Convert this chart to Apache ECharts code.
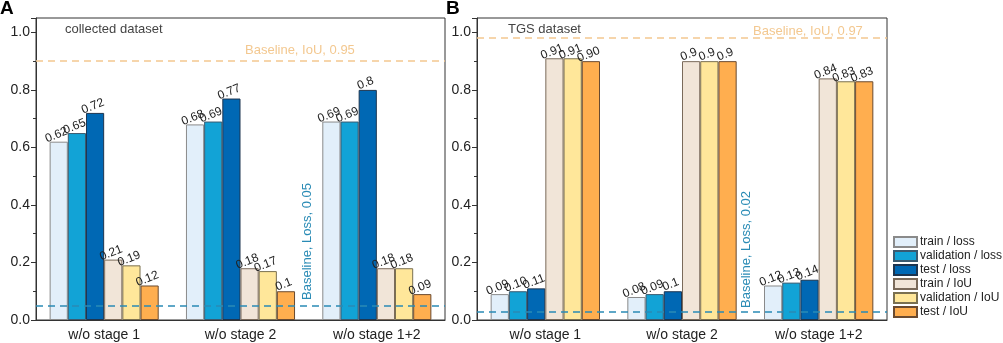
<!DOCTYPE html>
<html>
<head>
<meta charset="utf-8">
<script src="https://cdn.jsdelivr.net/npm/echarts@6/dist/echarts.min.js"></script>
<style>
html, body {margin: 0; padding: 0; background: #fff;}
#chart {width: 1003px; height: 343px;}
</style>
</head>
<body>
<div id="chart"></div>
<script>
var categories = ['w/o stage 1', 'w/o stage 2', 'w/o stage 1+2'];
var seriesNames = ['train / loss', 'validation / loss', 'test / loss', 'train / IoU', 'validation / IoU', 'test / IoU'];

// panel A: collected dataset
var aTrainLoss = ['0.62', '0.68', '0.69'];
var aValLoss   = ['0.65', '0.69', '0.69'];
var aTestLoss  = ['0.72', '0.77', '0.8'];
var aTrainIoU  = ['0.21', '0.18', '0.18'];
var aValIoU    = ['0.19', '0.17', '0.18'];
var aTestIoU   = ['0.12', '0.1', '0.09'];
var aBaseLoss = 0.05, aBaseIoU = 0.9;

// panel B: TGS dataset
var bTrainLoss = ['0.09', '0.08', '0.12'];
var bValLoss   = ['0.10', '0.09', '0.13'];
var bTestLoss  = ['0.11', '0.1', '0.14'];
var bTrainIoU  = ['0.91', '0.9', '0.84'];
var bValIoU    = ['0.91', '0.9', '0.83'];
var bTestIoU   = ['0.90', '0.9', '0.83'];
var bBaseLoss = 0.025, bBaseIoU = 0.98;

var fillColors = ['#e2effa', '#12a3d6', '#0068b4', '#f1e5d8', '#ffe79a', '#ffae4f'];
var borderColors = ['#8a8a8a', '#3a5a70', '#1d3550', '#7a6a5a', '#7a7050', '#6a4a30'];
var FONT = 'Liberation Sans, Arial, sans-serif';

var chart = echarts.init(document.getElementById('chart'));

function baseLine(val, color) {
	return {
		silent: true,
		symbol: 'none',
		label: {show: false},
		lineStyle: {color: color, type: [7, 5], width: 1.5},
		data: [{yAxis: val}]
	};
}

function panelSeries(idx, lists, baseLoss, baseIoU) {
	var out = [];
	for (var i = 0; i < lists.length; i++) {
		var s = {
			name: seriesNames[i],
			type: 'bar',
			xAxisIndex: idx,
			yAxisIndex: idx,
			barGap: '0%',
			barCategoryGap: '20%',
			itemStyle: {color: fillColors[i], borderColor: borderColors[i], borderWidth: 1},
			label: {
				show: true,
				position: 'top',
				rotate: 22,
				distance: 1,
				fontFamily: FONT,
				fontSize: 12,
				color: '#222',
				formatter: function (p) { return p.data; }
			},
			data: lists[i]
		};
		if (i == 0) s.markLine = baseLine(baseLoss, '#2a8bb5');
		if (i == 3) s.markLine = baseLine(baseIoU, '#f3c890');
		out.push(s);
	}
	return out;
}

function xAx(idx) {
	return {
		type: 'category', gridIndex: idx, data: categories,
		axisLine: {lineStyle: {color: '#333', width: 1}},
		axisTick: {alignWithLabel: true, length: 5, lineStyle: {color: '#333'}},
		axisLabel: {fontFamily: FONT, fontSize: 14, color: '#222', margin: 8}
	};
}
function yAx(idx) {
	return {
		type: 'value', gridIndex: idx, min: 0, max: 1.05, interval: 0.2,
		axisLine: {show: true, lineStyle: {color: '#333', width: 1}},
		axisTick: {show: true, length: 5, lineStyle: {color: '#333'}},
		minorTick: {show: true, splitNumber: 2, length: 3, lineStyle: {color: '#333'}},
		splitLine: {show: false},
		axisLabel: {
			fontFamily: FONT, fontSize: 14, color: '#222', margin: 6, showMaxLabel: false,
			formatter: function (v) { return Math.abs(v * 5 - Math.round(v * 5)) < 1e-6 ? v.toFixed(1) : ''; }
		}
	};
}

function txt(x, y, s, color, size) {
	return {type: 'text', left: x, top: y, style: {text: s, fill: color, font: (size || 13) + 'px ' + FONT}};
}

var option = {
	animation: false,
	backgroundColor: '#fff',
	grid: [
		{left: 36, top: 18, width: 409, height: 302, show: true, borderColor: '#333', borderWidth: 1},
		{left: 477, top: 18, width: 410, height: 302, show: true, borderColor: '#333', borderWidth: 1}
	],
	xAxis: [xAx(0), xAx(1)],
	yAxis: [yAx(0), yAx(1)],
	legend: {
		data: seriesNames,
		orient: 'vertical',
		left: 893, top: 236,
		padding: 0,
		itemWidth: 23, itemHeight: 10, itemGap: 2,
		icon: 'rect',
		textStyle: {fontFamily: FONT, fontSize: 12, color: '#222', padding: [0, 0, 0, -2]}
	},
	series: [].concat(
		panelSeries(0, [aTrainLoss, aValLoss, aTestLoss, aTrainIoU, aValIoU, aTestIoU], aBaseLoss, aBaseIoU),
		panelSeries(1, [bTrainLoss, bValLoss, bTestLoss, bTrainIoU, bValIoU, bTestIoU], bBaseLoss, bBaseIoU)
	),
	graphic: [
		{type: 'text', left: 0, top: -1, style: {text: 'A', fill: '#000', font: 'bold 19px ' + FONT}},
		{type: 'text', left: 446, top: -1, style: {text: 'B', fill: '#000', font: 'bold 19px ' + FONT}},
		txt(65, 23, 'collected dataset', '#444', 13),
		txt(245, 44, 'Baseline, IoU, 0.95', '#f3c890', 13),
		txt(508, 23, 'TGS dataset', '#444', 13),
		txt(753, 25, 'Baseline, IoU, 0.97', '#f3c890', 13),
		{type: 'text', x: 301, y: 300, rotation: Math.PI / 2, style: {text: 'Baseline, Loss, 0.05', fill: '#2a8bb5', font: '13px ' + FONT}},
		{type: 'text', x: 740, y: 308, rotation: Math.PI / 2, style: {text: 'Baseline, Loss, 0.02', fill: '#2a8bb5', font: '13px ' + FONT}}
	]
};
chart.setOption(option);
</script>
</body>
</html>
